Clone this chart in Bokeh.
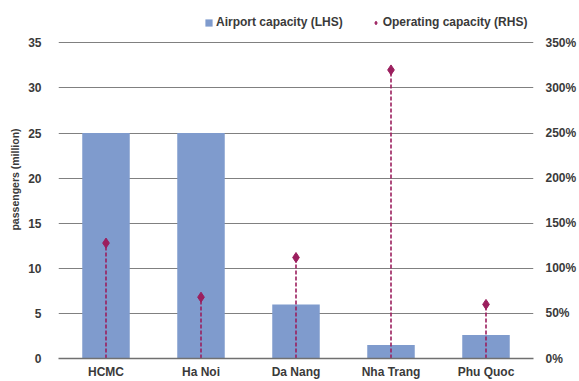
from bokeh.plotting import figure
from bokeh.models import Range1d, LinearAxis, FixedTicker, NumeralTickFormatter, Legend, LegendItem, ColumnDataSource
from bokeh.embed import file_html
from bokeh.resources import INLINE

cities = ["HCMC", "Ha Noi", "Da Nang", "Nha Trang", "Phu Quoc"]
airport_capacity = [25, 25, 6, 1.5, 2.6]  # million passengers (LHS)
operating_capacity = [1.28, 0.68, 1.12, 3.20, 0.60]  # fraction (RHS)
lhs_ticks = [0, 5, 10, 15, 20, 25, 30, 35]
rhs_ticks = [0, 0.5, 1.0, 1.5, 2.0, 2.5, 3.0, 3.5]

FONT = "Liberation Sans"
TXT = "#3a3a3a"
BAR = "#7f9bcd"
MAROON = "#9b1f5e"

src = ColumnDataSource(dict(city=cities, cap=airport_capacity, op=operating_capacity,
                            zero=[0] * len(cities)))

p = figure(x_range=cities, y_range=Range1d(0, 39.7), width=579, height=381,
           output_backend="svg", toolbar_location=None,
           min_border_left=58, min_border_right=0, min_border_top=0, min_border_bottom=0)
p.extra_y_ranges = {"rhs": Range1d(0, 3.97)}
p.outline_line_color = None
p.background_fill_color = "white"

bars = p.vbar(x="city", top="cap", width=0.5, source=src, fill_color=BAR, line_color=None)
p.segment(x0="city", y0="zero", x1="city", y1="op", source=src, y_range_name="rhs",
          line_color=MAROON, line_width=1.6, line_dash="4 2")
pts = p.scatter(x="city", y="op", source=src, y_range_name="rhs", marker="diamond",
                size=10, fill_color=MAROON, line_color=MAROON)

# Left axis
ya = p.yaxis[0]
ya.ticker = FixedTicker(ticks=lhs_ticks)
ya.axis_line_color = None
ya.major_tick_line_color = None
ya.minor_tick_line_color = None
ya.major_label_text_font = FONT
ya.major_label_text_font_style = "bold"
ya.major_label_text_font_size = "12px"
ya.major_label_text_color = TXT
ya.major_label_standoff = 11
ya.axis_label = "passengers (million)"
ya.axis_label_text_font = FONT
ya.axis_label_text_font_style = "bold"
ya.axis_label_text_font_size = "10.5px"
ya.axis_label_text_color = TXT
ya.axis_label_standoff = 4

# Right axis
ra = LinearAxis(y_range_name="rhs", ticker=FixedTicker(ticks=rhs_ticks),
                formatter=NumeralTickFormatter(format="0%"))
ra.axis_line_color = None
ra.major_tick_line_color = None
ra.minor_tick_line_color = None
ra.major_label_text_font = FONT
ra.major_label_text_font_style = "bold"
ra.major_label_text_font_size = "12px"
ra.major_label_text_color = TXT
ra.major_label_standoff = 6
p.add_layout(ra, "right")

# X axis
xa = p.xaxis[0]
xa.axis_line_color = "#707070"
xa.axis_line_width = 1.5
xa.major_tick_line_color = None
xa.minor_tick_line_color = None
xa.major_label_text_font = FONT
xa.major_label_text_font_style = "bold"
xa.major_label_text_font_size = "12px"
xa.major_label_text_color = TXT
xa.major_label_standoff = 0

p.xgrid.grid_line_color = None
p.ygrid.ticker = FixedTicker(ticks=lhs_ticks)
p.ygrid.grid_line_color = "#808080"
p.ygrid.grid_line_width = 1

legend = Legend(items=[LegendItem(label="Airport capacity (LHS)", renderers=[bars]),
                       LegendItem(label="Operating capacity (RHS)", renderers=[pts])],
                orientation="horizontal", location=(146, 329))
legend.label_text_font = FONT
legend.label_text_font_style = "bold"
legend.label_text_font_size = "12px"
legend.label_text_color = TXT
legend.glyph_width = 9
legend.glyph_height = 9
legend.label_standoff = 3
legend.spacing = 28
legend.padding = 2
legend.margin = 0
legend.border_line_color = None
legend.background_fill_alpha = 0
p.add_layout(legend)

open("out.html", "w").write(file_html(p, INLINE))
